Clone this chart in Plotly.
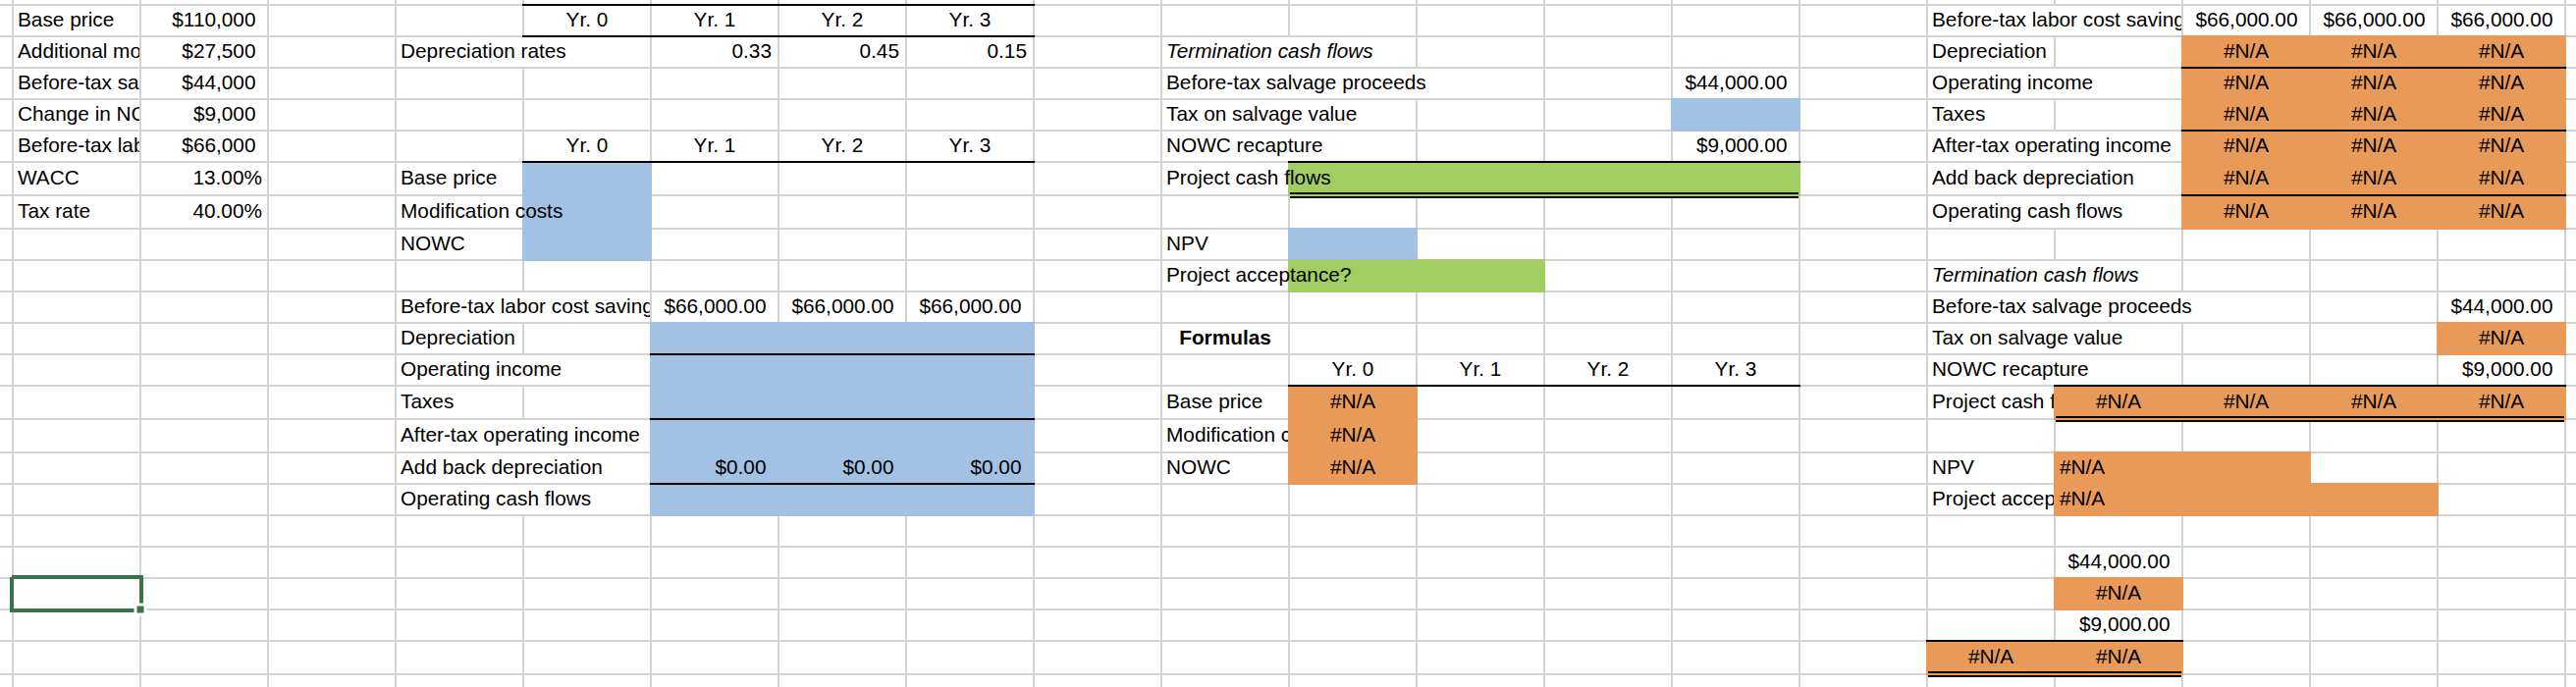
import plotly.graph_objects as go

# Values read from the worksheet
input_labels = ["Base price", "Additional mo", "Before-tax sa", "Change in NC", "Before-tax lab", "WACC", "Tax rate"]
input_values = ["$110,000", "$27,500", "$44,000", "$9,000", "$66,000"]
input_rates = ["13.00%", "40.00%"]
year_labels = ["Yr. 0", "Yr. 1", "Yr. 2", "Yr. 3"]
depreciation_rates = ["0.33", "0.45", "0.15"]
labor_savings = ["$66,000.00", "$66,000.00", "$66,000.00"]
add_back_zeros = ["$0.00", "$0.00", "$0.00"]
investment_labels = ["Base price", "Modification costs", "NOWC"]
formula_investment_labels = ["Base price", "Modification c", "NOWC"]
operating_labels = ["Depreciation", "Operating income", "Taxes", "After-tax operating income",
                    "Add back depreciation", "Operating cash flows"]
termination_labels = ["Before-tax salvage proceeds", "Tax on salvage value", "NOWC recapture"]
salvage_value = "$44,000.00"
nowc_value = "$9,000.00"
error_text = "#N/A"

# Sheet geometry: one x unit is one column, y is in pixels because the rows are uneven
W, H = 2624, 700
COL_PX = 130
X0_PX = 13
row_edges = [-27, 5, 37, 69, 101, 133, 165, 199, 233, 265, 297, 329, 361, 393,
             427, 461, 493, 525, 557, 589, 621, 653, 687, 719]

BLUE = "#a3c1e2"
GREEN = "#a1cd63"
ORANGE = "#e99a58"
GRID = "#d3d3d3"
SELECT = "#3b7349"
FONT_SIZE = 20.8
PX = 1 / COL_PX


def top(r):
    return row_edges[r + 1]


def bottom(r):
    return row_edges[r + 2]


# vertical grid pieces hidden by text running over from the left cell (column edge, row)
hidden_vlines = {(4, 1), (4, 9), (4, 11), (4, 13), (4, 14), (4, 15),
                 (10, 1), (10, 2), (10, 3), (10, 4), (11, 2),
                 (16, 0), (16, 2), (16, 4), (16, 5), (16, 6), (16, 8), (16, 9), (16, 10), (16, 11), (17, 9)}

grid_x, grid_y = [], []
for k in range(0, 21):
    for r in range(-1, 22):
        if (k, r) not in hidden_vlines:
            grid_x += [k, k, None]
            grid_y += [top(r), bottom(r), None]
for r in range(-1, 22):
    grid_x += [-1, 21, None]
    grid_y += [bottom(r), bottom(r), None]

fig = go.Figure()
fig.add_trace(go.Scatter(x=grid_x, y=grid_y, mode="lines", line=dict(color=GRID, width=2), hoverinfo="skip"))

# filled blocks: colour, first col, last col, first row, last row
blocks = [
    (BLUE, 4, 4, 5, 7), (BLUE, 5, 7, 10, 15), (BLUE, 13, 13, 3, 3), (BLUE, 10, 10, 7, 7),
    (GREEN, 10, 13, 5, 5), (GREEN, 10, 11, 8, 8),
    (ORANGE, 10, 10, 12, 14), (ORANGE, 17, 19, 1, 6), (ORANGE, 19, 19, 10, 10),
    (ORANGE, 16, 19, 12, 12), (ORANGE, 16, 17, 14, 14), (ORANGE, 16, 18, 15, 15),
    (ORANGE, 16, 16, 18, 18), (ORANGE, 15, 16, 20, 20),
]
for color in [BLUE, GREEN, ORANGE]:
    fx, fy = [], []
    for c, c0, c1, r0, r1 in blocks:
        if c == color:
            x0, x1 = c0 - PX, c1 + 1 + PX
            y0, y1 = top(r0) - 1, bottom(r1) + 1
            fx += [x0, x1, x1, x0, x0, None]
            fy += [y0, y0, y1, y1, y0, None]
    fig.add_trace(go.Scatter(x=fx, y=fy, mode="lines", fill="toself", fillcolor=color,
                             line=dict(width=0), hoverinfo="skip"))

# black borders: first col, last col, row, side of the row
borders = [
    (4, 7, 0, "top"), (4, 7, 0, "bottom"), (4, 7, 4, "bottom"),
    (5, 7, 10, "bottom"), (5, 7, 12, "bottom"), (5, 7, 14, "bottom"),
    (10, 13, 4, "bottom"), (10, 13, 11, "bottom"),
    (17, 19, 1, "bottom"), (17, 19, 3, "bottom"), (17, 19, 5, "bottom"),
    (16, 19, 11, "bottom"), (15, 16, 19, "bottom"),
]
double_borders = [(10, 13, 5), (16, 19, 12), (15, 16, 20)]
bx, by = [], []
for c0, c1, r, side in borders:
    y = top(r) if side == "top" else bottom(r)
    bx += [c0 - PX, c1 + 1 + PX, None]
    by += [y, y, None]
for c0, c1, r in double_borders:
    for dy in (-2, 2):
        bx += [c0 + PX, c1 + 1 - PX, None]
        by += [bottom(r) + dy, bottom(r) + dy, None]
fig.add_trace(go.Scatter(x=bx, y=by, mode="lines", line=dict(color="black", width=2), hoverinfo="skip"))

# selected cell with its fill handle
fig.add_trace(go.Scatter(x=[-PX, 1 + PX, 1 + PX, -PX, -PX], y=[top(18) - 1, top(18) - 1, bottom(18) + 1, bottom(18) + 1, top(18) - 1],
                         mode="lines", line=dict(color=SELECT, width=4), hoverinfo="skip"))
fig.add_trace(go.Scatter(x=[1], y=[bottom(18)], mode="markers", hoverinfo="skip",
                         marker=dict(symbol="square", size=10, color=SELECT, line=dict(color="white", width=3))))

# text goes into groups, one trace per alignment and clip window
text_groups = {}


def put(col, row, text, align="left", pad=5, clip=None):
    if align == "left":
        x = col + pad * PX
    elif align == "right":
        x = col + 1 - pad * PX
    else:
        x = col + 0.5
    y = (top(row) + bottom(row)) / 2 + 1
    g = text_groups.setdefault((align, clip), ([], [], []))
    g[0].append(x)
    g[1].append(y)
    g[2].append(text)


MONEY_PAD = 12.5
PLAIN_PAD = 7

# input block
for i, label in enumerate(input_labels):
    put(0, i, label, clip=1)
for i, v in enumerate(input_values):
    put(1, i, v, "right", MONEY_PAD)
for i, v in enumerate(input_rates):
    put(1, i + 5, v, "right", PLAIN_PAD - 1)

# depreciation and investment block
for i, y in enumerate(year_labels):
    put(4 + i, 0, y, "center")
    put(4 + i, 4, y, "center")
    put(10 + i, 11, y, "center")
put(3, 1, "Depreciation rates")
for i, v in enumerate(depreciation_rates):
    put(5 + i, 1, v, "right", PLAIN_PAD)
for i, label in enumerate(investment_labels):
    put(3, 5 + i, label)

# operating block, middle
put(3, 9, "Before-tax labor cost saving", clip=5)
for i, v in enumerate(labor_savings):
    put(5 + i, 9, v, "right", MONEY_PAD)
for i, label in enumerate(operating_labels):
    put(3, 10 + i, label)
for i, v in enumerate(add_back_zeros):
    put(5 + i, 14, v, "right", MONEY_PAD)

# termination block, middle
put(9, 1, "<i>Termination cash flows</i>")
for i, label in enumerate(termination_labels):
    put(9, 2 + i, label)
put(13, 2, salvage_value, "right", MONEY_PAD)
put(13, 4, nowc_value, "right", MONEY_PAD)
put(9, 5, "Project cash flows")
put(9, 7, "NPV")
put(9, 8, "Project acceptance?")
put(9, 10, "<b>Formulas</b>", "center")
for i, label in enumerate(formula_investment_labels):
    put(9, 12 + i, label, clip=10)
    put(10, 12 + i, error_text, "center")

# right hand formulas block
put(15, 0, "Before-tax labor cost saving", clip=17)
for i, v in enumerate(labor_savings):
    put(17 + i, 0, v, "right", MONEY_PAD)
for i, label in enumerate(operating_labels):
    put(15, 1 + i, label)
    for c in (17, 18, 19):
        put(c, 1 + i, error_text, "center")
put(15, 8, "<i>Termination cash flows</i>")
for i, label in enumerate(termination_labels):
    put(15, 9 + i, label)
put(19, 9, salvage_value, "right", MONEY_PAD)
put(19, 10, error_text, "center")
put(19, 11, nowc_value, "right", MONEY_PAD)
put(15, 12, "Project cash f", clip=16)
for c in (16, 17, 18, 19):
    put(c, 12, error_text, "center")
put(15, 14, "NPV")
put(16, 14, error_text)
put(15, 15, "Project accep", clip=16)
put(16, 15, error_text)
put(16, 17, salvage_value, "right", MONEY_PAD)
put(16, 18, error_text, "center")
put(16, 19, nowc_value, "right", MONEY_PAD)
put(15, 20, error_text, "center")
put(16, 20, error_text, "center")

positions = {"left": "middle right", "right": "middle left", "center": "middle center"}
layout_axes = {}
n = 1
for (align, clip), (tx, ty, tt) in text_groups.items():
    xa, ya = "x", "y"
    if clip is not None:
        # a narrow hidden subplot cuts the text at the next filled cell, like the sheet does
        n += 1
        xa, ya = f"x{n}", f"y{n}"
        right_px = X0_PX + clip * COL_PX - 1
        left_px = right_px - 330
        if left_px < 0:
            left_px = 0
        layout_axes[f"xaxis{n}"] = dict(domain=[left_px / W, right_px / W], anchor=ya, visible=False,
                                        range=[(left_px - X0_PX) / COL_PX, (right_px - X0_PX) / COL_PX])
        layout_axes[f"yaxis{n}"] = dict(domain=[0, 1], anchor=xa, visible=False, range=[H, 0])
    fig.add_trace(go.Scatter(x=tx, y=ty, text=tt, mode="text", xaxis=xa, yaxis=ya, hoverinfo="skip",
                             textposition=positions[align], textfont=dict(color="black", size=FONT_SIZE)))

fig.update_layout(
    width=W, height=H,
    margin=dict(l=0, r=0, t=0, b=0),
    paper_bgcolor="white", plot_bgcolor="rgba(0,0,0,0)",
    showlegend=False,
    font=dict(family="Liberation Sans, Arial, sans-serif"),
    xaxis=dict(range=[-X0_PX / COL_PX, (W - X0_PX) / COL_PX], visible=False),
    yaxis=dict(range=[H, 0], visible=False),
    **layout_axes,
)

fig.write_html("out.html", config=dict(displayModeBar=False),
               post_script="document.body.style.margin='0';")
